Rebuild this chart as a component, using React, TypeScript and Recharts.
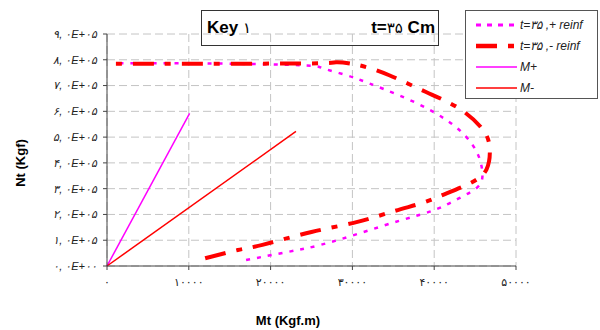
import { LineChart, Line, XAxis, YAxis, CartesianGrid } from "recharts";

// ── Data ──────────────────────────────────────────────────────────────────────

// Mt (Kgf.m) / Nt (Kgf) pairs
const plusReinf = [
  { x: 17000, y: 23000 },
  { x: 22000, y: 54000 },
  { x: 26000, y: 81000 },
  { x: 31000, y: 128000 },
  { x: 36000, y: 178000 },
  { x: 40000, y: 217000 },
  { x: 43000, y: 262000 },
  { x: 45300, y: 306000 },
  { x: 45900, y: 353000 },
  { x: 45600, y: 411000 },
  { x: 44700, y: 469000 },
  { x: 42800, y: 535000 },
  { x: 39500, y: 605000 },
  { x: 35500, y: 665000 },
  { x: 32000, y: 709000 },
  { x: 29300, y: 740000 },
  { x: 26400, y: 767000 },
  { x: 23600, y: 779000 },
  { x: 12000, y: 786000 },
  { x: 700, y: 786000 },
];

const minusReinf = [
  { x: 12000, y: 30000 },
  { x: 16000, y: 62000 },
  { x: 19000, y: 82000 },
  { x: 25000, y: 132000 },
  { x: 30500, y: 170000 },
  { x: 35000, y: 212000 },
  { x: 38500, y: 244000 },
  { x: 41000, y: 275000 },
  { x: 44500, y: 323000 },
  { x: 46400, y: 375000 },
  { x: 46800, y: 450000 },
  { x: 46000, y: 527000 },
  { x: 43000, y: 612000 },
  { x: 39000, y: 675000 },
  { x: 34500, y: 740000 },
  { x: 30500, y: 781000 },
  { x: 28000, y: 790000 },
  { x: 25000, y: 786000 },
  { x: 12000, y: 785000 },
  { x: 600, y: 785000 },
];

const mPlus = [
  { x: 0, y: 0 },
  { x: 10100, y: 592000 },
];

const mMinus = [
  { x: 0, y: 0 },
  { x: 23100, y: 522000 },
];

const xTicks = [0, 10000, 20000, 30000, 40000, 50000];
const yTicks = [0, 100000, 200000, 300000, 400000, 500000, 600000, 700000, 800000, 900000];

const LEGEND = [
  { label: "t=۳۵ ,+ reinf", color: "#FF00FF", width: 3, dash: "5 6" },
  { label: "t=۳۵ ,- reinf", color: "#FF0000", width: 4.5, dash: "21 11 6 11" },
  { label: "M+", color: "#FF00FF", width: 1.5, dash: undefined },
  { label: "M-", color: "#FF0000", width: 1.5, dash: undefined },
];

// ── Helpers ───────────────────────────────────────────────────────────────────

const FA = "۰۱۲۳۴۵۶۷۸۹";
const fa = (s: string) => s.replace(/[0-9]/g, (d) => FA[Number(d)]);

const fmtY = (v: number) =>
  v === 0 ? fa("0, 0E+00") : fa(`${Math.round(v / 100000)}, 0E+05`);

const FONT = "Arial, 'Liberation Sans', 'DejaVu Sans', sans-serif";

// ── Chart ─────────────────────────────────────────────────────────────────────

export default function App() {
  return (
    <div
      style={{
        position: "absolute",
        left: 0,
        top: 0,
        width: 600,
        height: 330,
        background: "#fff",
        fontFamily: FONT,
      }}
    >
      <LineChart
        width={600}
        height={330}
        margin={{ top: 34, right: 84, bottom: 34, left: 10 }}
      >
        <CartesianGrid stroke="#c4c4c4" strokeDasharray="8 4" />
        <XAxis
          type="number"
          dataKey="x"
          domain={[0, 50000]}
          ticks={xTicks}
          tickFormatter={(v) => fa(String(v))}
          tick={{ fontSize: 11, fill: "#222", fontFamily: FONT }}
          stroke="#444"
          tickSize={4}
          height={30}
          tickMargin={8}
        />
        <YAxis
          type="number"
          dataKey="y"
          domain={[0, 900000]}
          ticks={yTicks}
          tickFormatter={fmtY}
          tick={{ fontSize: 11, fill: "#222", fontStyle: "italic", fontFamily: FONT }}
          stroke="#444"
          tickSize={4}
          width={97}
          tickMargin={6}
        />
        <Line
          data={mPlus}
          dataKey="y"
          type="linear"
          stroke="#FF00FF"
          strokeWidth={1.5}
          dot={false}
          isAnimationActive={false}
        />
        <Line
          data={mMinus}
          dataKey="y"
          type="linear"
          stroke="#FF0000"
          strokeWidth={1.5}
          dot={false}
          isAnimationActive={false}
        />
        <Line
          data={plusReinf}
          dataKey="y"
          type="natural"
          stroke="#FF00FF"
          strokeWidth={2.5}
          strokeDasharray="4 7"
          dot={false}
          isAnimationActive={false}
        />
        <Line
          data={minusReinf}
          dataKey="y"
          type="natural"
          stroke="#FF0000"
          strokeWidth={4}
          strokeDasharray="21 11 6 11"
          dot={false}
          isAnimationActive={false}
        />
      </LineChart>

      {/* Title box */}
      <div
        style={{
          position: "absolute",
          left: 201,
          top: 10,
          width: 238,
          height: 36,
          border: "1.5px solid #333",
          boxSizing: "border-box",
          fontWeight: "bold",
          fontSize: 17,
          display: "flex",
          alignItems: "center",
          justifyContent: "space-between",
          padding: "0 3px 0 5px",
        }}
      >
        <span>
          Key <span style={{ fontSize: 15, fontWeight: "normal" }}>۱</span>
        </span>
        <span>
          t=<span style={{ fontSize: 15, fontWeight: "normal" }}>۳۵</span> Cm
        </span>
      </div>

      {/* Legend */}
      <div
        style={{
          position: "absolute",
          left: 465,
          top: 10,
          width: 133,
          height: 89,
          border: "1.5px solid #555",
          boxSizing: "border-box",
          background: "#fff",
          paddingTop: 3,
        }}
      >
        {LEGEND.map((l) => (
          <div
            key={l.label}
            style={{ display: "flex", alignItems: "center", height: 21 }}
          >
            <svg width={52} height={10} style={{ marginLeft: 10, flexShrink: 0 }}>
              <line
                x1={0}
                y1={5}
                x2={41}
                y2={5}
                stroke={l.color}
                strokeWidth={l.width}
                strokeDasharray={l.dash}
              />
            </svg>
            <span
              style={{
                fontSize: 12,
                fontStyle: "italic",
                color: "#222",
                marginLeft: -8,
                whiteSpace: "nowrap",
              }}
            >
              {l.label}
            </span>
          </div>
        ))}
      </div>

      {/* Axis titles */}
      <div
        style={{
          position: "absolute",
          left: 20,
          top: 163,
          transform: "translate(-50%, -50%) rotate(-90deg)",
          fontWeight: "bold",
          fontSize: 13,
          whiteSpace: "nowrap",
        }}
      >
        Nt (Kgf)
      </div>
      <div
        style={{
          position: "absolute",
          left: 288,
          top: 320,
          transform: "translate(-50%, -50%)",
          fontWeight: "bold",
          fontSize: 13,
          whiteSpace: "nowrap",
        }}
      >
        Mt (Kgf.m)
      </div>
    </div>
  );
}
